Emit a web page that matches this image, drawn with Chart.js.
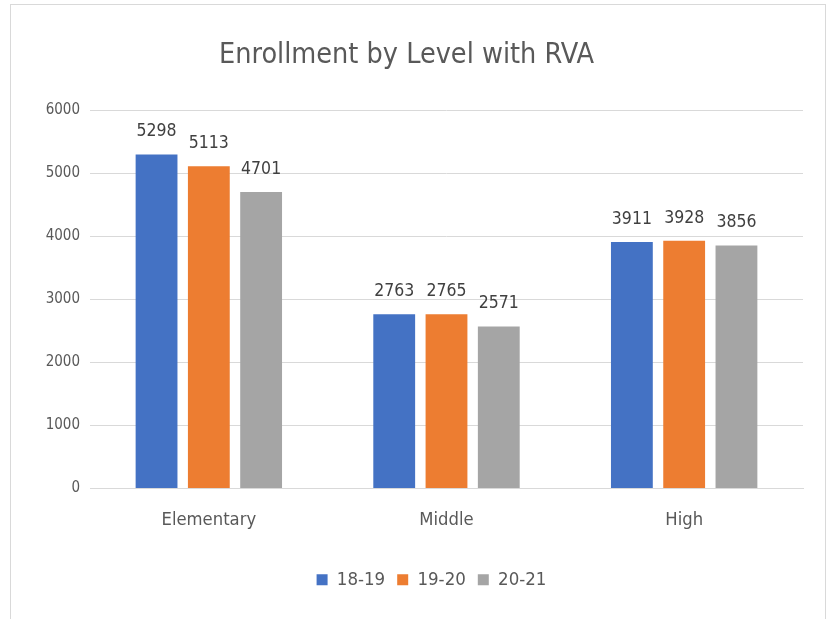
<!DOCTYPE html>
<html>
<head>
<meta charset="utf-8">
<script src="https://cdn.jsdelivr.net/npm/chart.js@4.4.1/dist/chart.umd.min.js"></script>
<style>
  html, body { margin: 0; padding: 0; background: #ffffff; }
  #wrap { position: relative; width: 831px; height: 619px; }
  #frame { position: absolute; left: 10px; top: 4px; width: 816px; height: 620px; border: 1px solid #d9d9d9; box-sizing: border-box; }
  canvas { position: absolute; left: 0; top: 0; }
</style>
</head>
<body>
<div id="wrap">
  <div id="frame"></div>
  <canvas id="c" width="831" height="619"></canvas>
</div>
<script>
const categories = ["Elementary", "Middle", "High"];
const seriesNames = ["18-19", "19-20", "20-21"];
const values1819 = [5298, 2763, 3911];
const values1920 = [5113, 2765, 3928];
const values2021 = [4701, 2571, 3856];
const yTicks = [0, 1000, 2000, 3000, 4000, 5000, 6000];
const colors = ["#4472C4", "#ED7D31", "#A5A5A5"];

const FONT = "'DejaVu Sans Condensed', 'DejaVu Sans', sans-serif";

const valueLabels = {
  id: 'valueLabels',
  afterLayout(chart) {
    if (chart.legend) { chart.legend.left += 25; chart.legend.right += 25; }
  },
  afterDatasetsDraw(chart) {
    const ctx = chart.ctx;
    ctx.save();
    ctx.font = "17.5px " + FONT;
    ctx.fillStyle = "#404040";
    ctx.textAlign = "center";
    ctx.textBaseline = "alphabetic";
    chart.data.datasets.forEach((ds, i) => {
      const meta = chart.getDatasetMeta(i);
      meta.data.forEach((bar, j) => {
        ctx.fillText(String(ds.data[j]), bar.x, bar.y - 18);
      });
    });
    ctx.restore();
  }
};

const seriesValues = [values1819, values1920, values2021];

new Chart(document.getElementById('c'), {
  type: 'bar',
  data: {
    labels: categories,
    datasets: seriesNames.map((n, i) => ({
      label: n,
      data: seriesValues[i],
      backgroundColor: colors[i],
      borderWidth: 0,
      categoryPercentage: 0.66,
      barPercentage: 0.8
    }))
  },
  options: {
    responsive: false,
    animation: false,
    layout: { padding: { left: 10, right: 28, top: 0, bottom: 20 } },
    plugins: {
      title: {
        display: true,
        text: "Enrollment by Level with RVA",
        color: "#595959",
        font: { family: FONT, size: 28.5, weight: 'normal' },
        padding: { top: 38, bottom: 38 }
      },
      legend: {
        position: 'bottom',
        labels: {
          color: "#595959",
          font: { family: FONT, size: 18.5 },
          usePointStyle: true,
          pointStyle: 'rect',
          boxWidth: 11,
          boxHeight: 11,
          padding: 12
        }
      },
      tooltip: { enabled: false }
    },
    scales: {
      x: {
        grid: { display: false },
        border: { display: true, color: "#d9d9d9" },
        ticks: { color: "#595959", font: { family: FONT, size: 18.3 }, padding: 13 },
        afterFit(s) { s.height = 70; }
      },
      y: {
        min: 0, max: 6000,
        afterBuildTicks(s) { s.ticks = yTicks.map(v => ({ value: v })); },
        grid: { color: "#d9d9d9", lineWidth: 1, drawTicks: false },
        border: { display: false },
        ticks: { color: "#595959", font: { family: FONT, size: 15 }, padding: 10,
                 callback: (v) => String(v) },
        afterFit(s) { s.width = 80; }
      }
    }
  },
  plugins: [valueLabels]
});
</script>
</body>
</html>
